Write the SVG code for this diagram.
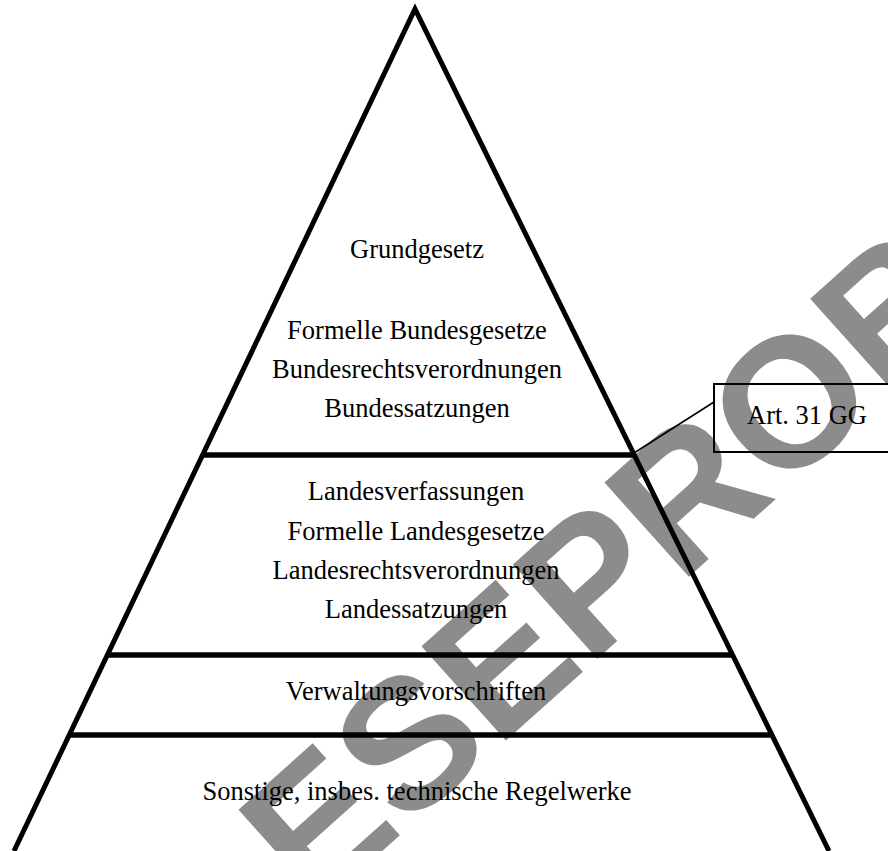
<svg xmlns="http://www.w3.org/2000/svg" width="888" height="851" viewBox="0 0 888 851">
<style>
.lbl{font-family:"Liberation Serif","Times New Roman",serif;font-size:26.5px;fill:#000;text-anchor:middle}
.edge{stroke:#000;stroke-width:5;fill:none;stroke-linejoin:miter}
.sep{stroke:#000;stroke-width:5.5;fill:none}
.wm{font-family:"Liberation Sans",Arial,sans-serif;font-weight:bold;font-size:184px;fill:#8c8c8c;text-anchor:middle}
</style>
<rect width="888" height="851" fill="#fff"/>
<text class="wm" transform="translate(653,609) rotate(-41.8)">LESEPROBE</text>
<g id="pyramid">
<polyline class="edge" points="14,851 415,9 829,851"/>
</g>
<g id="connectors">
<line class="sep" x1="202" y1="455" x2="635" y2="455"/>
<line class="sep" x1="107" y1="655" x2="733" y2="655"/>
<line class="sep" x1="69" y1="735" x2="773" y2="735"/>
<line x1="634" y1="453" x2="714" y2="402" stroke="#000" stroke-width="1.6"/>
</g>
<g id="bund">
<text class="lbl" x="417" y="258">Grundgesetz</text>
<text class="lbl" x="417" y="339">Formelle Bundesgesetze</text>
<text class="lbl" x="417" y="378">Bundesrechtsverordnungen</text>
<text class="lbl" x="417" y="417">Bundessatzungen</text>
</g>
<g id="land">
<text class="lbl" x="416" y="500">Landesverfassungen</text>
<text class="lbl" x="416" y="540">Formelle Landesgesetze</text>
<text class="lbl" x="416" y="579">Landesrechtsverordnungen</text>
<text class="lbl" x="416" y="618">Landessatzungen</text>
</g>
<g id="verwaltung">
<text class="lbl" x="416" y="700">Verwaltungsvorschriften</text>
</g>
<g id="sonstige">
<text class="lbl" x="417" y="800">Sonstige, insbes. technische Regelwerke</text>
</g>
<g id="art31">
<rect x="714" y="384" width="200" height="68" fill="none" stroke="#000" stroke-width="2"/>
<text class="lbl" x="807" y="424">Art. 31 GG</text>
</g>
</svg>
